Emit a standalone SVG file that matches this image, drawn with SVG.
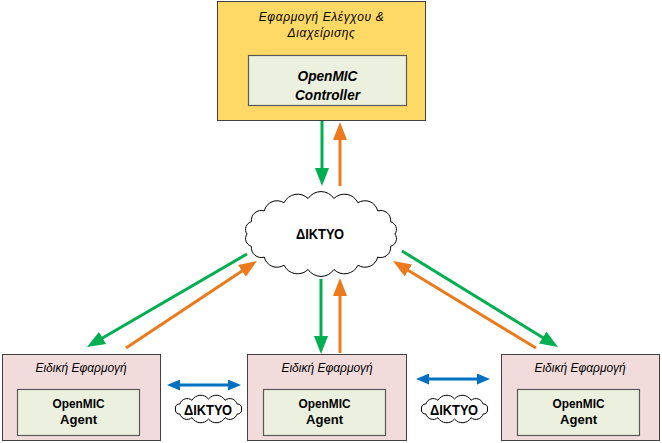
<svg xmlns="http://www.w3.org/2000/svg" width="662" height="443" viewBox="0 0 662 443">
<style>
.top{fill:#FFD966;stroke:#404040;stroke-width:1}
.app{fill:#F2DCDB;stroke:#404040;stroke-width:1}
.inner{fill:#EBF1DE;stroke:#595959;stroke-width:1.2}
.cloud{fill:#FFFFFF;stroke:#000000;stroke-width:1}
.t{font-family:"Liberation Sans",Arial,sans-serif;fill:#000;text-anchor:middle}
.it{font-style:italic;font-size:12px}
.b{font-weight:bold}
.g{stroke:#00B050;stroke-width:3;fill:none}
.o{stroke:#EC7A1C;stroke-width:3;fill:none}
.bl{stroke:#0070C0;stroke-width:3;fill:none}
</style>
<defs>
<marker id="ag" markerUnits="userSpaceOnUse" viewBox="0 0 18 14" markerWidth="18" markerHeight="14" refX="10" refY="7" orient="auto"><path d="M0,0 L18,7 L0,14 Z" fill="#00B050"/></marker>
<marker id="ao" markerUnits="userSpaceOnUse" viewBox="0 0 18 14" markerWidth="18" markerHeight="14" refX="10" refY="7" orient="auto"><path d="M0,0 L18,7 L0,14 Z" fill="#EC7A1C"/></marker>
<marker id="ab" markerUnits="userSpaceOnUse" viewBox="0 0 13 11" markerWidth="13" markerHeight="11" refX="6" refY="5.5" orient="auto-start-reverse"><path d="M0,0 L13,5.5 L0,11 Z" fill="#0070C0"/></marker>
<path id="smallcloud" d="M33,0 A4,4 0 0 1 28.6,5 A7.6,7.6 0 0 1 16.5,8.7 A10,10 0 0 1 0,10 A10,10 0 0 1 -16.5,8.7 A7.6,7.6 0 0 1 -28.6,5 A4,4 0 0 1 -33,0 A4,4 0 0 1 -28.6,-5 A7.6,7.6 0 0 1 -16.5,-8.7 A10,10 0 0 1 0,-10 A10,10 0 0 1 16.5,-8.7 A7.6,7.6 0 0 1 28.6,-5 A4,4 0 0 1 33,0 Z"/>
</defs>

<g id="controller-app">
<rect class="top" x="217.5" y="1.5" width="208" height="119"/>
<text class="t it" x="321.5" y="21" letter-spacing="0.6">Εφαρμογή Ελέγχου &amp;</text>
<text class="t it" x="321.5" y="37" letter-spacing="0.6">Διαχείρισης</text>
<rect class="inner" x="248.5" y="55.5" width="158" height="50"/>
<text class="t b" x="327.5" y="81" font-size="14" font-style="italic" textLength="60" lengthAdjust="spacingAndGlyphs">OpenMIC</text>
<text class="t b" x="327.5" y="100" font-size="14" font-style="italic" textLength="65" lengthAdjust="spacingAndGlyphs">Controller</text>
</g>

<g id="network">
<path class="cloud" d="M395,234 A8,8 0 0 1 390.6,246.3 A10,10 0 0 1 377.7,257.1 A13,13 0 0 1 358,265.2 A15,15 0 0 1 333.9,269.5 A15.5,15.5 0 0 1 308.1,269.5 A15,15 0 0 1 284,265.2 A13,13 0 0 1 264.3,257.1 A10,10 0 0 1 251.4,246.3 A8,8 0 0 1 247,234 A8,8 0 0 1 251.4,221.7 A10,10 0 0 1 264.3,210.9 A13,13 0 0 1 284,202.8 A15,15 0 0 1 308.1,198.5 A15.5,15.5 0 0 1 333.9,198.5 A15,15 0 0 1 358,202.8 A13,13 0 0 1 377.7,210.9 A10,10 0 0 1 390.6,221.7 A8,8 0 0 1 395,234 Z"/>
<text class="t b" x="320" y="239" font-size="14" textLength="48" lengthAdjust="spacingAndGlyphs">ΔΙΚΤΥΟ</text>
</g>

<g id="agent-left">
<rect class="app" x="2.5" y="354.5" width="158" height="86"/>
<text class="t it" x="81" y="372">Ειδική Εφαρμογή</text>
<rect class="inner" x="17.5" y="389.5" width="122" height="46"/>
<text class="t b" x="78.5" y="408" font-size="13" textLength="52" lengthAdjust="spacingAndGlyphs">OpenMIC</text>
<text class="t b" x="78.5" y="424" font-size="13" textLength="37" lengthAdjust="spacingAndGlyphs">Agent</text>
</g>

<g id="agent-middle">
<rect class="app" x="247.5" y="354.5" width="159" height="86"/>
<text class="t it" x="327" y="372">Ειδική Εφαρμογή</text>
<rect class="inner" x="263.5" y="389.5" width="122" height="46"/>
<text class="t b" x="324.5" y="408" font-size="13" textLength="52" lengthAdjust="spacingAndGlyphs">OpenMIC</text>
<text class="t b" x="324.5" y="424" font-size="13" textLength="37" lengthAdjust="spacingAndGlyphs">Agent</text>
</g>

<g id="agent-right">
<rect class="app" x="501.5" y="354.5" width="158" height="86"/>
<text class="t it" x="580" y="372">Ειδική Εφαρμογή</text>
<rect class="inner" x="517.5" y="389.5" width="122" height="46"/>
<text class="t b" x="578.5" y="408" font-size="13" textLength="52" lengthAdjust="spacingAndGlyphs">OpenMIC</text>
<text class="t b" x="578.5" y="424" font-size="13" textLength="37" lengthAdjust="spacingAndGlyphs">Agent</text>
</g>

<g id="network-left">
<use href="#smallcloud" class="cloud" transform="translate(208.5,409)"/>
<text class="t b" x="208" y="415" font-size="14" textLength="48" lengthAdjust="spacingAndGlyphs">ΔΙΚΤΥΟ</text>
</g>

<g id="network-right">
<use href="#smallcloud" class="cloud" transform="translate(454.5,409)"/>
<text class="t b" x="454" y="415" font-size="14" textLength="48" lengthAdjust="spacingAndGlyphs">ΔΙΚΤΥΟ</text>
</g>

<g id="connectors">
<line class="g" x1="322" y1="121" x2="322" y2="178" marker-end="url(#ag)"/>
<line class="o" x1="340" y1="186" x2="340" y2="130" marker-end="url(#ao)"/>
<line class="g" x1="321" y1="279" x2="321" y2="346" marker-end="url(#ag)"/>
<line class="o" x1="340" y1="353" x2="340" y2="286" marker-end="url(#ao)"/>
<line class="g" x1="247" y1="254" x2="93.9" y2="343" marker-end="url(#ag)"/>
<line class="o" x1="126" y1="348" x2="250.3" y2="265.4" marker-end="url(#ao)"/>
<line class="g" x1="402" y1="251" x2="551.2" y2="342.8" marker-end="url(#ag)"/>
<line class="o" x1="536" y1="348" x2="399.8" y2="265.2" marker-end="url(#ao)"/>
<line class="bl" x1="174" y1="385" x2="234" y2="385" marker-start="url(#ab)" marker-end="url(#ab)"/>
<line class="bl" x1="423" y1="379" x2="483" y2="379" marker-start="url(#ab)" marker-end="url(#ab)"/>
</g>
</svg>
